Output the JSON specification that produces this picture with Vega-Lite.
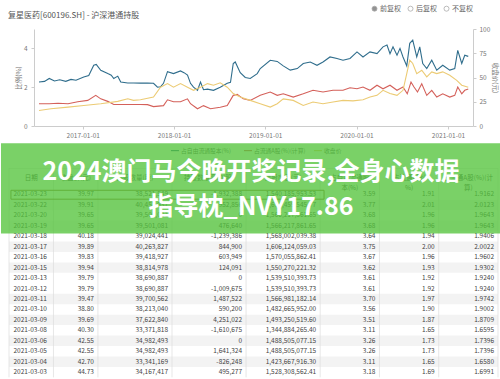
{
  "$schema": "https://vega.github.io/schema/vega-lite/v6.json",
  "padding": {"top": 5, "left": 0, "right": 0, "bottom": 0},
  "background": "white",
  "bounds": "flush",
  "center": true,
  "spacing": 11,
  "config": {"view": {"stroke": null}, "font": "Noto Sans CJK SC"},
  "datasets": {
    "a": [
      {"d":"2016-07-10","v":2.27},{"d":"2016-08-01","v":2.30},{"d":"2016-08-20","v":2.45},{"d":"2016-09-10","v":2.32},{"d":"2016-10-01","v":2.38},{"d":"2016-10-25","v":2.30},{"d":"2016-11-15","v":2.40},{"d":"2016-12-05","v":2.36},{"d":"2017-01-05","v":2.53},{"d":"2017-01-25","v":2.60},{"d":"2017-02-14","v":3.13},{"d":"2017-02-24","v":3.17},{"d":"2017-03-14","v":2.87},{"d":"2017-04-11","v":2.70},{"d":"2017-04-25","v":2.62},{"d":"2017-05-05","v":2.45},{"d":"2017-05-21","v":2.57},{"d":"2017-06-02","v":2.27},{"d":"2017-06-30","v":2.22},{"d":"2017-07-23","v":2.22},{"d":"2017-08-20","v":2.21},{"d":"2017-09-17","v":2.22},{"d":"2017-10-11","v":2.20},{"d":"2017-10-27","v":2.00},{"d":"2017-11-08","v":2.02},{"d":"2017-11-20","v":2.20},{"d":"2017-12-06","v":2.80},{"d":"2017-12-30","v":2.70},{"d":"2018-01-27","v":2.84},{"d":"2018-02-10","v":2.75},{"d":"2018-02-24","v":2.62},{"d":"2018-03-08","v":2.20},{"d":"2018-03-20","v":2.00},{"d":"2018-04-05","v":1.84},{"d":"2018-04-17","v":2.27},{"d":"2018-04-29","v":1.87},{"d":"2018-05-15","v":1.90},{"d":"2018-06-08","v":1.84},{"d":"2018-07-05","v":2.00},{"d":"2018-08-02","v":2.20},{"d":"2018-08-15","v":2.25},{"d":"2018-08-26","v":3.22},{"d":"2018-09-03","v":3.30},{"d":"2018-09-23","v":2.75},{"d":"2018-10-13","v":2.50},{"d":"2018-11-02","v":2.45},{"d":"2018-11-30","v":2.70},{"d":"2018-12-12","v":2.96},{"d":"2019-01-21","v":3.39},{"d":"2019-02-18","v":3.33},{"d":"2019-03-14","v":3.10},{"d":"2019-04-11","v":2.88},{"d":"2019-05-09","v":2.96},{"d":"2019-06-02","v":3.22},{"d":"2019-06-30","v":3.30},{"d":"2019-07-27","v":3.13},{"d":"2019-08-20","v":3.30},{"d":"2019-09-17","v":3.56},{"d":"2019-10-15","v":3.48},{"d":"2019-11-08","v":3.39},{"d":"2019-12-06","v":3.48},{"d":"2020-01-03","v":3.82},{"d":"2020-01-27","v":3.56},{"d":"2020-02-24","v":3.82},{"d":"2020-03-23","v":3.73},{"d":"2020-04-16","v":4.08},{"d":"2020-05-02","v":4.17},{"d":"2020-05-14","v":3.73},{"d":"2020-05-26","v":4.08},{"d":"2020-06-11","v":3.65},{"d":"2020-06-23","v":4.00},{"d":"2020-07-05","v":3.56},{"d":"2020-07-20","v":3.10},{"d":"2020-08-01","v":4.26},{"d":"2020-08-13","v":4.43},{"d":"2020-08-29","v":3.56},{"d":"2020-09-10","v":4.08},{"d":"2020-09-22","v":3.22},{"d":"2020-10-08","v":2.96},{"d":"2020-10-28","v":3.39},{"d":"2020-11-17","v":2.88},{"d":"2020-12-11","v":3.13},{"d":"2021-01-08","v":2.88},{"d":"2021-01-28","v":2.96},{"d":"2021-02-09","v":3.90},{"d":"2021-02-25","v":3.22},{"d":"2021-03-09","v":3.65},{"d":"2021-03-23","v":3.59}
    ],
    "b": [
      {"d":"2016-07-10","v":1.15},{"d":"2016-08-20","v":1.15},{"d":"2016-09-24","v":1.17},{"d":"2016-11-03","v":1.15},{"d":"2016-12-12","v":1.25},{"d":"2017-01-21","v":1.32},{"d":"2017-02-22","v":1.58},{"d":"2017-03-14","v":1.40},{"d":"2017-04-11","v":1.27},{"d":"2017-05-05","v":1.11},{"d":"2017-06-30","v":1.11},{"d":"2017-08-20","v":1.11},{"d":"2017-09-17","v":1.10},{"d":"2017-10-11","v":1.00},{"d":"2017-11-20","v":1.05},{"d":"2017-12-06","v":1.35},{"d":"2017-12-30","v":1.25},{"d":"2018-01-27","v":1.25},{"d":"2018-02-24","v":1.40},{"d":"2018-03-08","v":1.15},{"d":"2018-04-05","v":0.89},{"d":"2018-04-29","v":1.05},{"d":"2018-05-27","v":0.89},{"d":"2018-07-05","v":0.97},{"d":"2018-08-02","v":1.05},{"d":"2018-08-26","v":1.58},{"d":"2018-09-11","v":1.63},{"d":"2018-10-05","v":1.40},{"d":"2018-11-02","v":1.32},{"d":"2018-12-12","v":1.58},{"d":"2019-01-21","v":1.75},{"d":"2019-02-18","v":1.58},{"d":"2019-03-14","v":1.66},{"d":"2019-04-23","v":1.49},{"d":"2019-06-02","v":1.66},{"d":"2019-07-11","v":1.84},{"d":"2019-08-20","v":1.75},{"d":"2019-09-29","v":1.84},{"d":"2019-11-08","v":1.84},{"d":"2019-12-06","v":1.97},{"d":"2020-01-03","v":1.92},{"d":"2020-01-27","v":2.01},{"d":"2020-02-24","v":1.84},{"d":"2020-03-23","v":2.10},{"d":"2020-04-16","v":1.92},{"d":"2020-05-14","v":2.10},{"d":"2020-06-11","v":1.84},{"d":"2020-07-05","v":2.01},{"d":"2020-07-22","v":1.66},{"d":"2020-08-06","v":2.27},{"d":"2020-08-18","v":2.01},{"d":"2020-09-01","v":1.75},{"d":"2020-09-18","v":2.18},{"d":"2020-10-08","v":1.58},{"d":"2020-10-28","v":1.84},{"d":"2020-11-17","v":1.49},{"d":"2020-12-11","v":1.66},{"d":"2021-01-08","v":1.49},{"d":"2021-01-28","v":1.58},{"d":"2021-02-09","v":2.01},{"d":"2021-02-25","v":1.66},{"d":"2021-03-09","v":1.84},{"d":"2021-03-23","v":1.91}
    ],
    "c": [
      {"d":"2016-07-10","v":16.0},{"d":"2016-08-27","v":17.8},{"d":"2016-11-03","v":19.5},{"d":"2017-01-05","v":21.2},{"d":"2017-03-14","v":23.0},{"d":"2017-05-21","v":25.4},{"d":"2017-06-30","v":28.0},{"d":"2017-07-23","v":26.4},{"d":"2017-08-20","v":27.0},{"d":"2017-10-11","v":29.9},{"d":"2017-11-08","v":40.0},{"d":"2017-12-06","v":43.7},{"d":"2017-12-30","v":40.0},{"d":"2018-01-27","v":43.7},{"d":"2018-02-24","v":40.0},{"d":"2018-03-20","v":36.8},{"d":"2018-04-17","v":40.0},{"d":"2018-05-15","v":43.7},{"d":"2018-06-08","v":42.0},{"d":"2018-07-05","v":44.6},{"d":"2018-08-02","v":40.0},{"d":"2018-08-26","v":33.4},{"d":"2018-09-23","v":30.0},{"d":"2018-11-02","v":26.4},{"d":"2018-12-12","v":23.0},{"d":"2019-01-21","v":19.5},{"d":"2019-02-18","v":23.0},{"d":"2019-03-14","v":28.0},{"d":"2019-04-23","v":26.4},{"d":"2019-06-02","v":21.2},{"d":"2019-07-11","v":24.7},{"d":"2019-08-20","v":23.0},{"d":"2019-09-29","v":24.7},{"d":"2019-11-08","v":26.4},{"d":"2019-12-18","v":25.9},{"d":"2020-01-27","v":27.0},{"d":"2020-02-24","v":29.9},{"d":"2020-03-23","v":31.6},{"d":"2020-04-16","v":36.8},{"d":"2020-05-14","v":33.4},{"d":"2020-06-11","v":31.6},{"d":"2020-07-05","v":36.8},{"d":"2020-07-20","v":54.0},{"d":"2020-08-01","v":67.9},{"d":"2020-08-13","v":64.5},{"d":"2020-08-29","v":54.0},{"d":"2020-09-18","v":57.5},{"d":"2020-10-08","v":50.6},{"d":"2020-10-28","v":55.8},{"d":"2020-11-17","v":54.0},{"d":"2020-12-11","v":55.8},{"d":"2021-01-08","v":52.3},{"d":"2021-02-05","v":47.0},{"d":"2021-02-25","v":42.0},{"d":"2021-03-23","v":39.97}
    ],
    "k": [{"k":"前复权"},{"k":"后复权"},{"k":"不复权"}],
    "cols": [{"u":"u01"},{"u":"u04"},{"u":"u07"},{"u":"u12"},{"u":"u17"},{"u":"u22"},{"u":"u26"},{"u":"u30"}],
    "t": [
      {"date":"2021-03-23","close":"39.97","shares":"38,521,549","chg":"-1,932,388","mv":"1,540,185,953.53","p1":"3.59","p2":"1.91","p3":"1.9162"},
      {"date":"2021-03-22","close":"39.91","shares":"40,453,937","chg":"952,856","mv":"1,614,459,545.77","p1":"3.77","p2":"2.01","p3":"2.0123"},
      {"date":"2021-03-20","close":"39.65","shares":"39,501,081","chg":"0","mv":"1,566,217,861.65","p1":"3.68","p2":"1.96","p3":"1.9643"},
      {"date":"2021-03-19","close":"39.65","shares":"39,501,081","chg":"476,640","mv":"1,566,217,861.65","p1":"3.68","p2":"1.96","p3":"1.9643"},
      {"date":"2021-03-18","close":"40.18","shares":"39,024,441","chg":"-1,239,386","mv":"1,568,002,039.38","p1":"3.64","p2":"1.94","p3":"1.9406"},
      {"date":"2021-03-17","close":"39.89","shares":"40,263,827","chg":"844,900","mv":"1,606,124,059.03","p1":"3.75","p2":"2.00","p3":"2.0022"},
      {"date":"2021-03-16","close":"39.83","shares":"39,418,927","chg":"603,949","mv":"1,570,055,862.41","p1":"3.67","p2":"1.96","p3":"1.9602"},
      {"date":"2021-03-15","close":"39.94","shares":"38,814,978","chg":"124,091","mv":"1,550,270,221.32","p1":"3.62","p2":"1.93","p3":"1.9302"},
      {"date":"2021-03-13","close":"39.79","shares":"38,690,887","chg":"0","mv":"1,539,510,393.73","p1":"3.61","p2":"1.92","p3":"1.9240"},
      {"date":"2021-03-12","close":"39.79","shares":"38,690,887","chg":"-1,009,675","mv":"1,539,510,393.73","p1":"3.61","p2":"1.92","p3":"1.9240"},
      {"date":"2021-03-11","close":"39.47","shares":"39,700,562","chg":"1,487,522","mv":"1,566,981,182.14","p1":"3.70","p2":"1.97","p3":"1.9742"},
      {"date":"2021-03-10","close":"38.80","shares":"38,213,040","chg":"590,200","mv":"1,482,665,952.00","p1":"3.56","p2":"1.90","p3":"1.9002"},
      {"date":"2021-03-09","close":"39.69","shares":"37,622,840","chg":"4,251,022","mv":"1,493,250,519.60","p1":"3.51","p2":"1.87","p3":"1.8709"},
      {"date":"2021-03-08","close":"40.30","shares":"33,371,818","chg":"-1,610,675","mv":"1,344,884,265.40","p1":"3.11","p2":"1.65","p3":"1.6595"},
      {"date":"2021-03-06","close":"42.55","shares":"34,982,493","chg":"0","mv":"1,488,505,077.15","p1":"3.26","p2":"1.73","p3":"1.7396"},
      {"date":"2021-03-05","close":"42.55","shares":"34,982,493","chg":"1,641,324","mv":"1,488,505,077.15","p1":"3.26","p2":"1.73","p3":"1.7396"},
      {"date":"2021-03-04","close":"42.70","shares":"33,341,169","chg":"-826,248","mv":"1,423,667,916.30","p1":"3.11","p2":"1.65","p3":"1.6580"},
      {"date":"2021-03-03","close":"44.73","shares":"34,167,417","chg":"495,277","mv":"1,528,308,562.41","p1":"3.18","p2":"1.69","p3":"1.6991"}
    ]
  },
  "vconcat": [
    {
      "width": 439,
      "height": 97,
      "title": {"text": "复星医药[600196.SH] - 沪深港通持股", "anchor": "start", "frame": "group", "dx": -26, "offset": 6, "fontSize": 8, "fontWeight": "normal", "color": "#555555"},
      "layer": [
        {
          "layer": [
            {
              "data": {"name": "a"},
              "mark": {"type": "line", "strokeWidth": 1.1},
              "encoding": {
                "x": {"field": "d", "type": "temporal", "scale": {"domain": [{"year": 2016, "month": 6, "date": 20, "utc": true}, {"year": 2021, "month": 4, "date": 11, "utc": true}], "nice": false},
                  "axis": {"title": null, "values": [{"year": 2017, "month": 1, "date": 1, "utc": true}, {"year": 2018, "month": 1, "date": 1, "utc": true}, {"year": 2019, "month": 1, "date": 1, "utc": true}, {"year": 2020, "month": 1, "date": 1, "utc": true}, {"year": 2021, "month": 1, "date": 1, "utc": true}], "format": "%Y-%m-%d", "labelFontSize": 6.5, "labelColor": "#777777", "domainColor": "#cccccc", "tickColor": "#cccccc", "tickSize": 3, "labelPadding": 3, "grid": false}},
                "y": {"field": "v", "type": "quantitative", "scale": {"domain": [0, 5], "nice": false},
                  "axis": {"title": "比例(%)", "values": [0, 1, 2, 3, 4, 5], "titleFontSize": 6.5, "titleFontWeight": "normal", "titleColor": "#777777", "titlePadding": 2, "labelFontSize": 6.5, "labelColor": "#777777", "domainColor": "#cccccc", "tickColor": "#cccccc", "tickSize": 3, "labelPadding": 4, "grid": false}},
                "color": {"datum": "占自由流通股本(%)", "scale": {"domain": ["占自由流通股本(%)", "占流通A股(%)(计算)", "收盘价"], "range": ["#2f6d8c", "#d4605a", "#eccb74"]}, "legend": null}
              }
            },
            {
              "data": {"name": "b"},
              "mark": {"type": "line", "strokeWidth": 1.1},
              "encoding": {
                "x": {"field": "d", "type": "temporal"},
                "y": {"field": "v", "type": "quantitative"},
                "color": {"datum": "占流通A股(%)(计算)", "legend": null}
              }
            },
            {
              "data": {"name": "k"},
              "mark": {"type": "point", "filled": true},
              "encoding": {
                "x": {"field": "d", "type": "temporal"},
                "y": {"field": "v", "type": "quantitative"},
                "fill": {"field": "k", "type": "nominal", "scale": {"domain": ["前复权", "后复权", "不复权"], "range": ["#666666", "#ffffff", "#ffffff"]},
                  "legend": {"orient": "none", "legendX": 362, "legendY": -24, "direction": "horizontal", "title": null, "symbolType": "circle", "symbolSize": 25, "symbolStrokeColor": "#888888", "symbolStrokeWidth": 0.8, "labelFontSize": 7, "labelColor": "#666666", "columnPadding": 5, "labelOffset": 2}}
              }
            }
          ]
        },
        {
          "data": {"name": "c"},
          "mark": {"type": "line", "strokeWidth": 1.1},
          "encoding": {
            "x": {"field": "d", "type": "temporal"},
            "y": {"field": "v", "type": "quantitative", "scale": {"domain": [0, 100], "nice": false},
              "axis": {"orient": "right", "title": "收盘价(元)", "values": [0, 25, 50, 75, 100], "titleFontSize": 6.5, "titleFontWeight": "normal", "titleColor": "#777777", "titlePadding": 2, "labelFontSize": 6.5, "labelColor": "#777777", "domainColor": "#cccccc", "tickColor": "#cccccc", "tickSize": 3, "labelPadding": 3, "grid": false}},
            "color": {"datum": "收盘价", "legend": null}
          }
        }
      ],
      "resolve": {"scale": {"y": "independent"}}
    },
    {
      "width": 489,
      "height": 240.35,
      "layer": [
        {
          "data": {"name": "t"},
          "transform": [{"window": [{"op": "row_number", "as": "n"}]}, {"filter": "indexof([2,4,6,8,11,13,15,17], datum.n) >= 0"}],
          "mark": {"type": "rect", "fill": "#f3f3f3"},
          "encoding": {
            "x": {"datum": "u01", "type": "nominal", "bandPosition": 0, "axis": null, "scale": {"type": "band", "paddingInner": 0, "paddingOuter": 0, "domain": ["u01","u02","u03","u04","u05","u06","u07","u08","u09","u10","u11","u12","u13","u14","u15","u16","u17","u18","u19","u20","u21","u22","u23","u24","u25","u26","u27","u28","u29","u30","u31","u32","u33"]}},
            "x2": {"datum": "u33", "bandPosition": 1},
            "y": {"field": "date", "type": "nominal", "axis": null, "scale": {"type": "band", "paddingInner": 0, "paddingOuter": 0, "domain": ["t","lg","g","h1","h2","2021-03-23","2021-03-22","2021-03-20","2021-03-19","2021-03-18","2021-03-17","2021-03-16","2021-03-15","2021-03-13","2021-03-12","2021-03-11","2021-03-10","2021-03-09","2021-03-08","2021-03-06","2021-03-05","2021-03-04","2021-03-03"]}}
          }
        },
        {
          "data": {"values": [{}]},
          "mark": {"type": "rule", "color": "#2f6d8c", "strokeWidth": 1.2},
          "encoding": {"x": {"datum": "u11", "type": "nominal", "bandPosition": 0.93}, "x2": {"datum": "u12", "bandPosition": 0.47}, "y": {"datum": "lg", "type": "nominal", "bandPosition": 0.3}}
        },
        {
          "data": {"values": [{}]},
          "mark": {"type": "text", "text": "占自由流通股本(%)", "align": "left", "baseline": "middle", "fontSize": 5.8, "color": "#555555"},
          "encoding": {"x": {"datum": "u12", "type": "nominal", "bandPosition": 0.61}, "y": {"datum": "lg", "type": "nominal", "bandPosition": 0.3}}
        },
        {
          "data": {"values": [{}]},
          "mark": {"type": "rule", "color": "#d4605a", "strokeWidth": 1.2},
          "encoding": {"x": {"datum": "u16", "type": "nominal", "bandPosition": 0.86}, "x2": {"datum": "u17", "bandPosition": 0.4}, "y": {"datum": "lg", "type": "nominal", "bandPosition": 0.3}}
        },
        {
          "data": {"values": [{}]},
          "mark": {"type": "text", "text": "占流通A股(%)(计算)", "align": "left", "baseline": "middle", "fontSize": 5.8, "color": "#555555"},
          "encoding": {"x": {"datum": "u17", "type": "nominal", "bandPosition": 0.53}, "y": {"datum": "lg", "type": "nominal", "bandPosition": 0.3}}
        },
        {
          "data": {"values": [{}]},
          "mark": {"type": "rule", "color": "#eccb74", "strokeWidth": 1.2},
          "encoding": {"x": {"datum": "u21", "type": "nominal", "bandPosition": 0.58}, "x2": {"datum": "u22", "bandPosition": 0.12}, "y": {"datum": "lg", "type": "nominal", "bandPosition": 0.3}}
        },
        {
          "data": {"values": [{}]},
          "mark": {"type": "text", "text": "收盘价", "align": "left", "baseline": "middle", "fontSize": 5.8, "color": "#555555"},
          "encoding": {"x": {"datum": "u22", "type": "nominal", "bandPosition": 0.26}, "y": {"datum": "lg", "type": "nominal", "bandPosition": 0.3}}
        },
        {
          "data": {"name": "cols"},
          "mark": {"type": "rule", "color": "#dddddd", "strokeWidth": 0.7},
          "encoding": {
            "x": {"field": "u", "type": "nominal", "bandPosition": 0},
            "y": {"datum": "h1", "type": "nominal", "bandPosition": 0},
            "y2": {"datum": "2021-03-03", "bandPosition": 1}
          }
        },
        {
          "data": {"values": [{}]},
          "mark": {"type": "rule", "color": "#dddddd", "strokeWidth": 0.7},
          "encoding": {
            "x": {"datum": "u33", "type": "nominal", "bandPosition": 1},
            "y": {"datum": "h1", "type": "nominal", "bandPosition": 0},
            "y2": {"datum": "2021-03-03", "bandPosition": 1}
          }
        },
        {
          "data": {"values": [{}]},
          "mark": {"type": "rule", "color": "#dddddd", "strokeWidth": 0.7},
          "encoding": {
            "x": {"datum": "u01", "type": "nominal", "bandPosition": 0},
            "x2": {"datum": "u33", "bandPosition": 1},
            "y": {"datum": "h1", "type": "nominal", "bandPosition": 0}
          }
        },
        {
          "data": {"name": "t"},
          "mark": {"type": "text", "align": "left", "baseline": "middle", "dx": 4.5, "fontSize": 6.5, "color": "#444444"},
          "encoding": {"x": {"datum": "u01", "type": "nominal", "bandPosition": 0}, "y": {"field": "date", "type": "nominal"}, "text": {"field": "date"}}
        },
        {
          "data": {"name": "t"},
          "mark": {"type": "text", "align": "right", "baseline": "middle", "dx": -4, "fontSize": 6.5, "color": "#444444"},
          "encoding": {"x": {"datum": "u06", "type": "nominal", "bandPosition": 1}, "y": {"field": "date", "type": "nominal"}, "text": {"field": "close"}}
        },
        {
          "data": {"name": "t"},
          "mark": {"type": "text", "align": "right", "baseline": "middle", "dx": -4, "fontSize": 6.5, "color": "#444444"},
          "encoding": {"x": {"datum": "u11", "type": "nominal", "bandPosition": 1}, "y": {"field": "date", "type": "nominal"}, "text": {"field": "shares"}}
        },
        {
          "data": {"name": "t"},
          "mark": {"type": "text", "align": "right", "baseline": "middle", "dx": -4, "fontSize": 6.5, "color": "#444444"},
          "encoding": {"x": {"datum": "u16", "type": "nominal", "bandPosition": 1}, "y": {"field": "date", "type": "nominal"}, "text": {"field": "chg"}}
        },
        {
          "data": {"name": "t"},
          "mark": {"type": "text", "align": "right", "baseline": "middle", "dx": -4, "fontSize": 6.5, "color": "#444444"},
          "encoding": {"x": {"datum": "u21", "type": "nominal", "bandPosition": 1}, "y": {"field": "date", "type": "nominal"}, "text": {"field": "mv"}}
        },
        {
          "data": {"name": "t"},
          "mark": {"type": "text", "align": "right", "baseline": "middle", "dx": -4, "fontSize": 6.5, "color": "#444444"},
          "encoding": {"x": {"datum": "u25", "type": "nominal", "bandPosition": 1}, "y": {"field": "date", "type": "nominal"}, "text": {"field": "p1"}}
        },
        {
          "data": {"name": "t"},
          "mark": {"type": "text", "align": "right", "baseline": "middle", "dx": -4, "fontSize": 6.5, "color": "#444444"},
          "encoding": {"x": {"datum": "u29", "type": "nominal", "bandPosition": 1}, "y": {"field": "date", "type": "nominal"}, "text": {"field": "p2"}}
        },
        {
          "data": {"name": "t"},
          "mark": {"type": "text", "align": "right", "baseline": "middle", "dx": -4, "fontSize": 6.5, "color": "#444444"},
          "encoding": {"x": {"datum": "u33", "type": "nominal", "bandPosition": 1}, "y": {"field": "date", "type": "nominal"}, "text": {"field": "p3"}}
        },
        {
          "data": {"values": [{}]},
          "mark": {"type": "text", "text": "日期", "align": "center", "baseline": "middle", "fontSize": 6.5, "color": "#444444"},
          "encoding": {"x": {"datum": "u02", "type": "nominal", "bandPosition": 0.5}, "y": {"datum": "h1", "type": "nominal", "bandPosition": 0.9}}
        },
        {
          "data": {"values": [{}]},
          "mark": {"type": "text", "text": "收盘价(元)", "align": "center", "baseline": "middle", "fontSize": 6.5, "color": "#444444"},
          "encoding": {"x": {"datum": "u05", "type": "nominal", "bandPosition": 0.5}, "y": {"datum": "h1", "type": "nominal", "bandPosition": 0.9}}
        },
        {
          "data": {"values": [{}]},
          "mark": {"type": "text", "text": "持股数量(股)", "align": "center", "baseline": "middle", "fontSize": 6.5, "color": "#444444"},
          "encoding": {"x": {"datum": "u09", "type": "nominal", "bandPosition": 0.5}, "y": {"datum": "h1", "type": "nominal", "bandPosition": 0.9}}
        },
        {
          "data": {"values": [{}]},
          "mark": {"type": "text", "text": "持股数量变动(股)", "align": "center", "baseline": "middle", "fontSize": 6.5, "color": "#444444"},
          "encoding": {"x": {"datum": "u14", "type": "nominal", "bandPosition": 0.5}, "y": {"datum": "h1", "type": "nominal", "bandPosition": 0.9}}
        },
        {
          "data": {"values": [{}]},
          "mark": {"type": "text", "text": "持股市值(元)", "align": "center", "baseline": "middle", "fontSize": 6.5, "color": "#444444"},
          "encoding": {"x": {"datum": "u19", "type": "nominal", "bandPosition": 0.5}, "y": {"datum": "h1", "type": "nominal", "bandPosition": 0.9}}
        },
        {
          "data": {"values": [{}]},
          "mark": {"type": "text", "text": ["占自由流通股", "本(%)"], "align": "center", "baseline": "middle", "fontSize": 6.5, "lineHeight": 10, "color": "#444444"},
          "encoding": {"x": {"datum": "u24", "type": "nominal", "bandPosition": 0}, "y": {"datum": "h1", "type": "nominal", "bandPosition": 0.9}}
        },
        {
          "data": {"values": [{}]},
          "mark": {"type": "text", "text": ["占流通A股(", "%)"], "align": "center", "baseline": "middle", "fontSize": 6.5, "lineHeight": 10, "color": "#444444"},
          "encoding": {"x": {"datum": "u28", "type": "nominal", "bandPosition": 0}, "y": {"datum": "h1", "type": "nominal", "bandPosition": 0.9}}
        },
        {
          "data": {"values": [{}]},
          "mark": {"type": "text", "text": ["占流通A股(%)(计", "算)"], "align": "center", "baseline": "middle", "fontSize": 6.5, "lineHeight": 10, "color": "#444444"},
          "encoding": {"x": {"datum": "u32", "type": "nominal", "bandPosition": 0}, "y": {"datum": "h1", "type": "nominal", "bandPosition": 0.9}}
        },
        {
          "data": {"values": [{}]},
          "mark": {"type": "rect", "fill": null, "fillOpacity": 0, "stroke": "#8b6d2f", "strokeWidth": 1},
          "encoding": {
            "x": {"datum": "u01", "type": "nominal", "bandPosition": 0.13},
            "x2": {"datum": "u22", "bandPosition": 0.26},
            "y": {"datum": "2021-03-23", "type": "nominal", "bandPosition": 0.1},
            "y2": {"datum": "2021-03-23", "bandPosition": 0.95}
          }
        },
        {
          "data": {"values": [{}]},
          "mark": {"type": "rect", "fill": "#55c43c", "opacity": 0.78},
          "encoding": {
            "x": {"datum": "u01", "type": "nominal", "bandPosition": -0.54},
            "x2": {"datum": "u33", "bandPosition": 1.3},
            "y": {"datum": "t", "type": "nominal", "bandPosition": 0.6},
            "y2": {"datum": "2021-03-18", "bandPosition": 0.23}
          }
        },
        {
          "data": {"values": [{}]},
          "mark": {"type": "text", "text": "2024澳门马今晚开奖记录,全身心数据", "align": "center", "baseline": "middle", "fontSize": 25, "fontWeight": "bold", "color": "#ffffff"},
          "encoding": {"x": {"datum": "u17", "type": "nominal", "bandPosition": 0.33}, "y": {"datum": "h1", "type": "nominal", "bandPosition": 0.39}}
        },
        {
          "data": {"values": [{}]},
          "mark": {"type": "text", "text": "指导枕_NVY17.86", "align": "center", "baseline": "middle", "fontSize": 25, "fontWeight": "bold", "color": "#ffffff"},
          "encoding": {"x": {"datum": "u17", "type": "nominal", "bandPosition": 0.33}, "y": {"datum": "2021-03-22", "type": "nominal", "bandPosition": 0.69}}
        }
      ]
    }
  ]
}
